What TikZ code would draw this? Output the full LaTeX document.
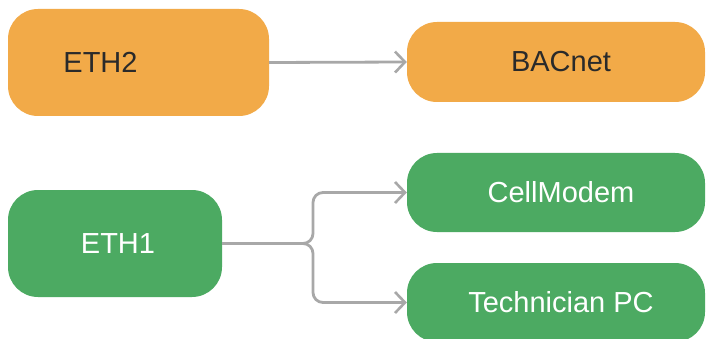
\documentclass[tikz,border=0pt]{standalone}
\usepackage{fontspec}
\setmainfont{Liberation Sans}
\usetikzlibrary{arrows.meta}
\definecolor{orangebox}{HTML}{F2AA48}
\definecolor{greenbox}{HTML}{4CAA62}
\definecolor{conngray}{HTML}{A8A8A8}
\definecolor{darktext}{HTML}{2A2A2A}
\tikzset{
  box/.style={rectangle, rounded corners=30pt, inner sep=0pt, font=\fontsize{29}{33}\selectfont},
  orangenode/.style={box, fill=orangebox, text=darktext},
  greennode/.style={box, fill=greenbox, text=white},
  conn/.style={draw=conngray, line width=2.8pt, -{Straight Barb[length=10pt,width=21pt,line width=2.6pt]}},
}
\begin{document}
\begin{tikzpicture}[x=1pt,y=-1pt]
\useasboundingbox (0,0) rectangle (706,339);
\fill[white] (0,0) rectangle (706,339);
\begin{scope}
\clip (0,0) rectangle (706,339);
\node[orangenode, minimum width=261pt, minimum height=107pt] (eth2) at (138.5,62.5) {ETH2\hspace*{76pt}};
\node[orangenode, minimum width=298pt, minimum height=80pt] (bacnet) at (556,62) {\hspace*{10pt}BACnet};
\node[greennode, minimum width=214pt, minimum height=107pt] (eth1) at (115,243.5) {\hspace*{6pt}ETH1};
\node[greennode, minimum width=298pt, minimum height=79pt] (cell) at (556,192.5) {\hspace*{10pt}CellModem};
\node[greennode, minimum width=298pt, minimum height=79pt] (tech) at (556,302.5) {\hspace*{10pt}Technician PC};
\end{scope}
\coordinate (j) at (313,243.5);
\draw[conn] (eth2.east) -- (bacnet.west);
\draw[conn, rounded corners=10pt] (eth1.east) -- (j) |- (cell.west);
\draw[conn, rounded corners=10pt] (eth1.east) -- (j) |- (tech.west);
\end{tikzpicture}
\end{document}
